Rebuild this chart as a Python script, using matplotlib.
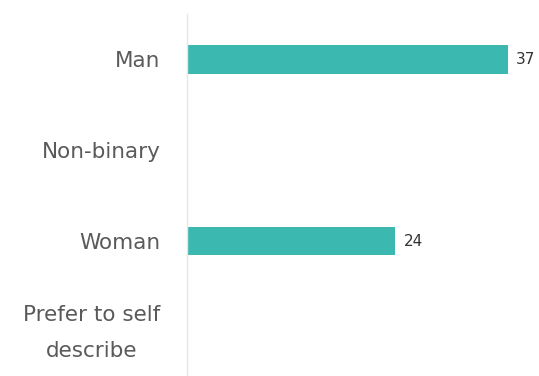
import matplotlib
matplotlib.use("Agg")
import matplotlib.pyplot as plt
from matplotlib.transforms import ScaledTranslation

categories = ["Man", "Non-binary", "Woman", "Prefer to self\ndescribe"]
values = [37, 0, 24, 0]

bar_color = "#3bb8b0"
label_color = "#5a5a5a"

fig = plt.figure(figsize=(5.39, 3.76), dpi=100)
ax = fig.add_axes([0.347, -0.005, 0.643, 0.968])

y = list(range(len(categories)))
bars = ax.barh(y, values, height=0.31, color=bar_color)
ax.set_ylim(len(categories) - 0.5, -0.5)
ax.set_xlim(0, 40)

for yi, v in zip(y, values):
    if v > 0:
        ax.text(v + 1.0, yi, str(v), va="center", ha="left",
                fontsize=11, color="#333333", family="DejaVu Sans")

ax.set_yticks(y)
ax.set_yticklabels(categories, fontsize=15.5, color=label_color,
                   family="DejaVu Sans", linespacing=1.95,
                   ha="right", multialignment="center")
ax.tick_params(axis="y", length=0, pad=19)
ax.set_xticks([])

# nudge the wrapped label so its two lines sit centred on the row
for lbl in ax.get_yticklabels():
    if "\n" in lbl.get_text():
        lbl.set_transform(lbl.get_transform()
                          + ScaledTranslation(0, 9 / 100, fig.dpi_scale_trans))

for side in ["top", "right", "bottom"]:
    ax.spines[side].set_visible(False)
ax.spines["left"].set_color("#e6e6e6")
ax.spines["left"].set_linewidth(1)

fig.savefig("out.png", dpi=100)
